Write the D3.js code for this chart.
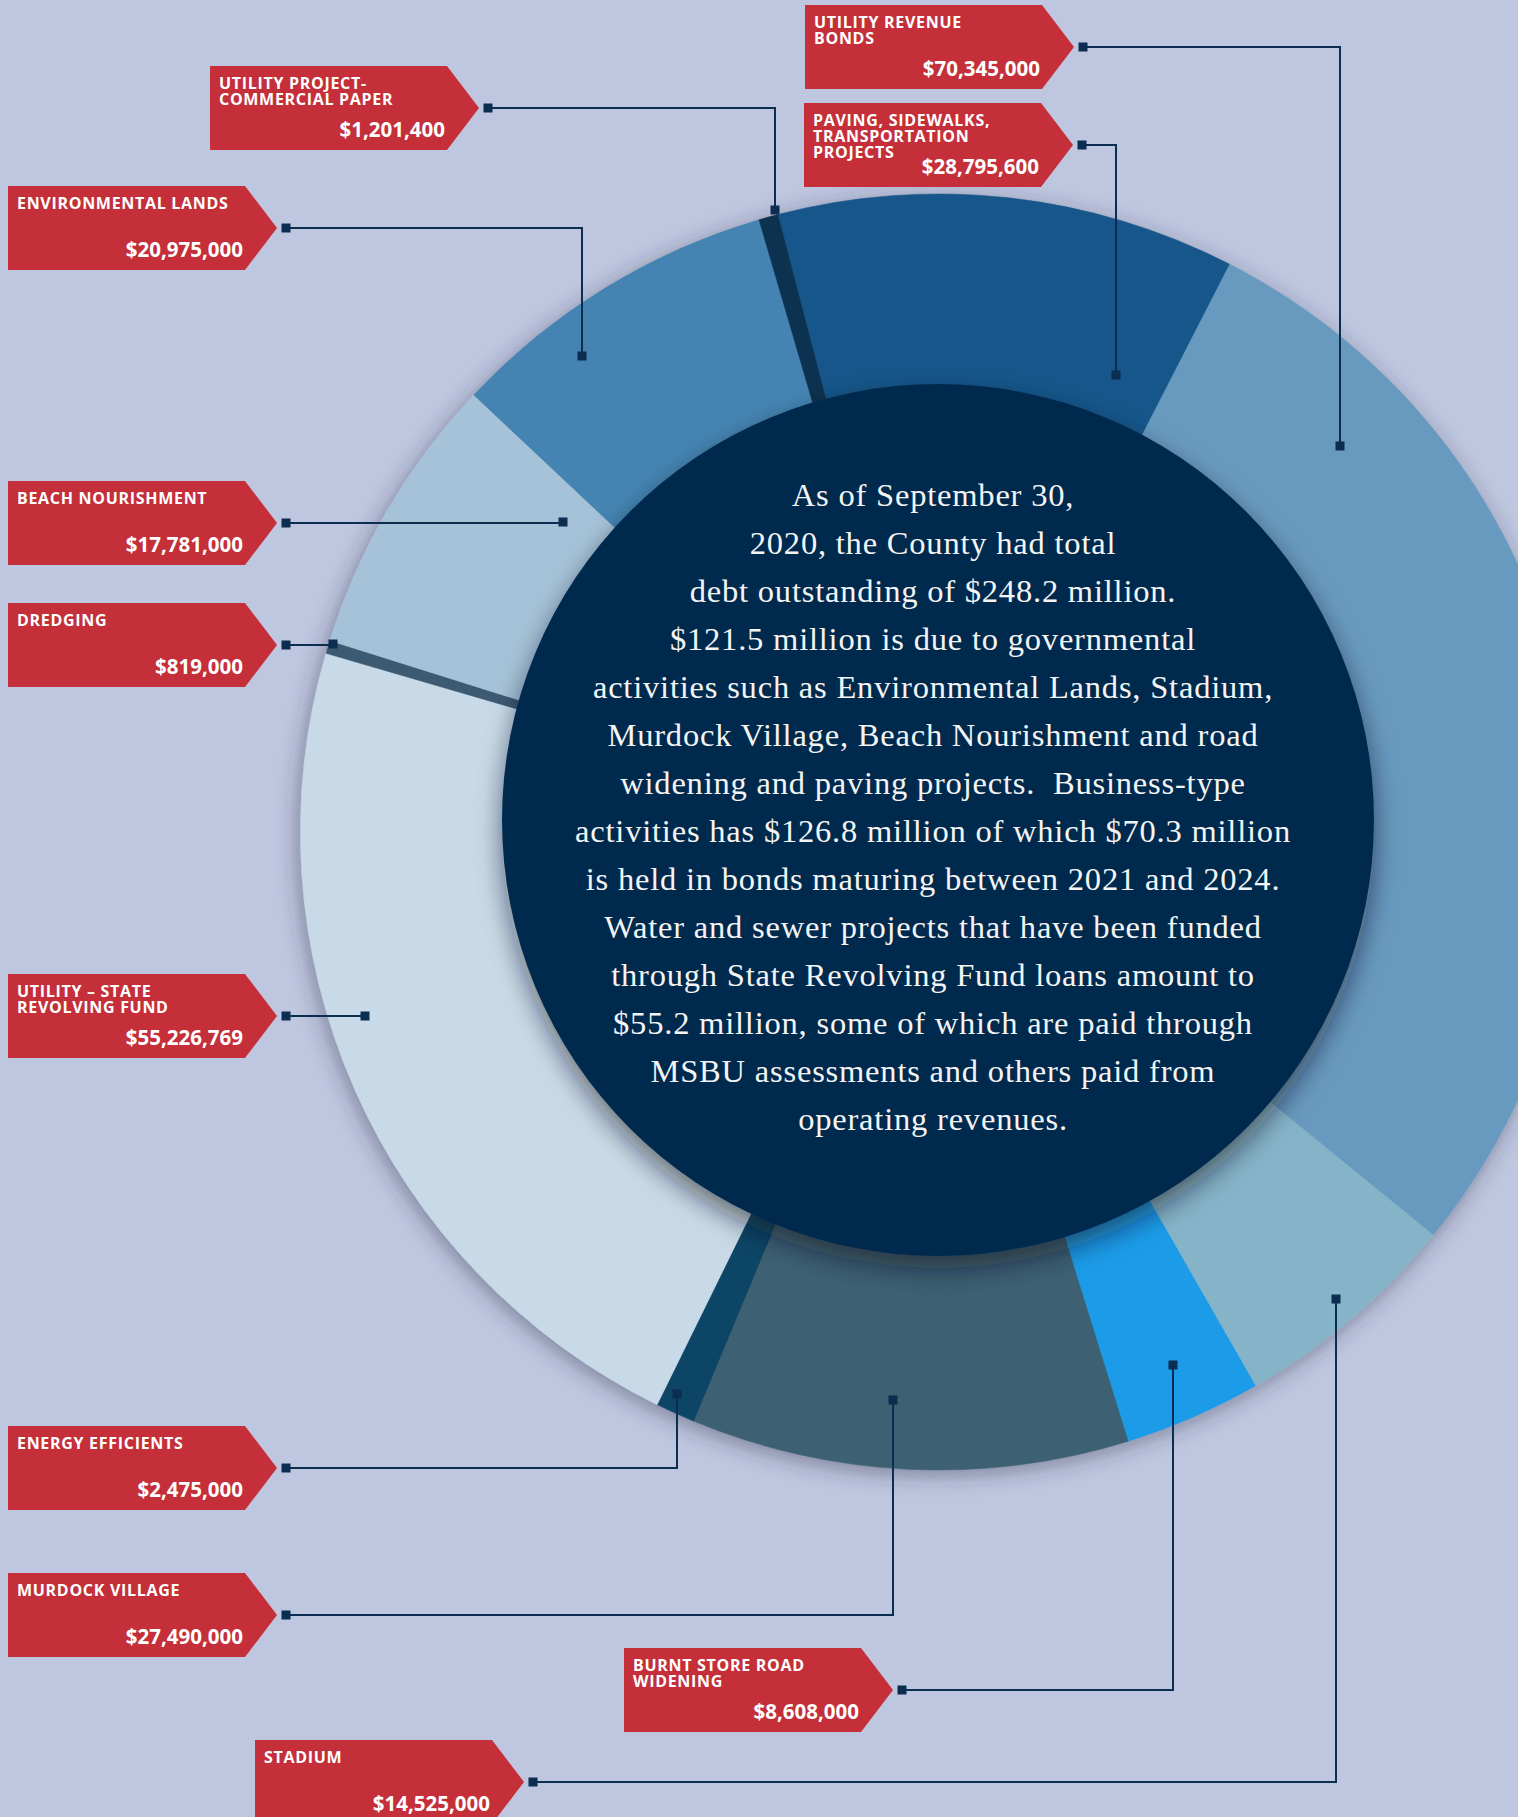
<!DOCTYPE html>
<html>
<head>
<meta charset="utf-8">
<script src="https://cdn.jsdelivr.net/npm/d3@7"></script>
<style>
  html, body { margin: 0; padding: 0; background: #bfc7e0; }
  svg { display: block; }
</style>
</head>
<body>
<div id="chart"></div>
<script>
const width = 1518;
const height = 1817;

// debt by program, clockwise from the top of the ring
const categories = [
  "Paving, Sidewalks, Transportation Projects",
  "Utility Revenue Bonds",
  "Stadium",
  "Burnt Store Road Widening",
  "Murdock Village",
  "Energy Efficients",
  "Utility - State Revolving Fund",
  "Dredging",
  "Beach Nourishment",
  "Environmental Lands",
  "Utility Project-Commercial Paper"
];
const amounts = [28795600, 70345000, 14525000, 8608000, 27490000, 2475000, 55226769, 819000, 17781000, 20975000, 1201400];
const labelLines = [
  ["PAVING, SIDEWALKS,", "TRANSPORTATION", "PROJECTS"],
  ["UTILITY REVENUE", "BONDS"],
  ["STADIUM"],
  ["BURNT STORE ROAD", "WIDENING"],
  ["MURDOCK VILLAGE"],
  ["ENERGY EFFICIENTS"],
  ["UTILITY \u2013 STATE", "REVOLVING FUND"],
  ["DREDGING"],
  ["BEACH NOURISHMENT"],
  ["ENVIRONMENTAL LANDS"],
  ["UTILITY PROJECT-", "COMMERCIAL PAPER"]
];
const sliceColors = ["#17578a", "#6899bf", "#85b3c8", "#1a9be8", "#3d6173", "#0e4466",
                     "#c8dae8", "#3e5a73", "#a5c2d8", "#4584b2", "#0d3050"];

const centerText = [
  "As of September 30,",
  "2020, the County had total",
  "debt outstanding of $248.2 million.",
  "$121.5 million is due to governmental",
  "activities such as Environmental Lands, Stadium,",
  "Murdock Village, Beach Nourishment and road",
  "widening and paving projects.  Business-type",
  "activities has $126.8 million of which $70.3 million",
  "is held in bonds maturing between 2021 and 2024.",
  "Water and sewer projects that have been funded",
  "through State Revolving Fund loans amount to",
  "$55.2 million, some of which are paid through",
  "MSBU assessments and others paid from",
  "operating revenues."
];

// callout placement: box left/top, elbow x of leader, leader end y
const labelLayout = [
  { bx: 804, by: 103, ex: 1116, ey: 375 },
  { bx: 805, by: 5,   ex: 1340, ey: 446 },
  { bx: 255, by: 1740, ex: 1336, ey: 1299 },
  { bx: 624, by: 1648, ex: 1173, ey: 1365 },
  { bx: 8,   by: 1573, ex: 893, ey: 1400 },
  { bx: 8,   by: 1426, ex: 677, ey: 1394 },
  { bx: 8,   by: 974, ex: 365, ey: 1016 },
  { bx: 8,   by: 603, ex: 333, ey: 644 },
  { bx: 8,   by: 481, ex: 563, ey: 522 },
  { bx: 8,   by: 186, ex: 582, ey: 356 },
  { bx: 210, by: 66,  ex: 775, ey: 210 }
];

const data = categories.map((c, i) => ({
  name: c, value: amounts[i], lines: labelLines[i], color: sliceColors[i], pos: labelLayout[i]
}));

const cx = 938.6, cy = 832, outerR = 638;
const discX = 938, discY = 820, discR = 436;
const startDeg = -14.6;

const svg = d3.select("#chart")
  .append("svg")
  .attr("width", width)
  .attr("height", height);

const defs = svg.append("defs");
defs.append("filter").attr("id", "ringShadow")
  .attr("x", "-20%").attr("y", "-20%").attr("width", "140%").attr("height", "140%")
  .append("feDropShadow")
  .attr("dx", -3).attr("dy", 5).attr("stdDeviation", 11)
  .attr("flood-color", "#2a2f45").attr("flood-opacity", 0.45);
defs.append("filter").attr("id", "discShadow")
  .attr("x", "-20%").attr("y", "-20%").attr("width", "140%").attr("height", "140%")
  .append("feDropShadow")
  .attr("dx", 0).attr("dy", 12).attr("stdDeviation", 13)
  .attr("flood-color", "#101820").attr("flood-opacity", 0.55);

svg.append("rect")
  .attr("width", width)
  .attr("height", height)
  .attr("fill", "#bfc7e0");

const pie = d3.pie()
  .sort(null)
  .value(d => d.value)
  .startAngle(startDeg * Math.PI / 180)
  .endAngle(startDeg * Math.PI / 180 + 2 * Math.PI);

const arc = d3.arc()
  .innerRadius(300)
  .outerRadius(outerR);

const ring = svg.append("g")
  .attr("transform", `translate(${cx},${cy})`)
  .attr("filter", "url(#ringShadow)");

ring.selectAll("path")
  .data(pie(data))
  .enter()
  .append("path")
  .attr("d", arc)
  .attr("fill", d => d.data.color)
  .attr("stroke", d => d.data.color)
  .attr("stroke-width", 0.6);

// center disc with summary text
svg.append("circle")
  .attr("cx", discX)
  .attr("cy", discY)
  .attr("r", discR)
  .attr("fill", "#042c4e")
  .attr("filter", "url(#discShadow)");

svg.append("g")
  .selectAll("text")
  .data(centerText)
  .enter()
  .append("text")
  .attr("x", 933)
  .attr("y", (d, i) => 506 + i * 48)
  .attr("text-anchor", "middle")
  .attr("fill", "#f4f4f4")
  .style("font-family", "'Liberation Serif', 'DejaVu Serif', serif")
  .style("font-size", "32.5px")
  .style("letter-spacing", "0.8px")
  .style("white-space", "pre")
  .text(d => d);

// leader lines
const leaders = svg.append("g");
data.forEach(d => {
  const p = d.pos;
  const sy = p.by + 42;
  const sx = p.bx + 237 + 32 + 9;
  leaders.append("path")
    .attr("d", `M${sx},${sy}H${p.ex}V${p.ey}`)
    .attr("fill", "none")
    .attr("stroke", "#0b2d4f")
    .attr("stroke-width", 2);
  [[sx, sy], [p.ex, p.ey]].forEach(([x, y]) => {
    leaders.append("rect")
      .attr("x", x - 4.5)
      .attr("y", y - 4.5)
      .attr("width", 9)
      .attr("height", 9)
      .attr("fill", "#0b2d4f");
  });
});

// red callout tags
const fmt = d3.format("$,");
const tags = svg.append("g")
  .selectAll("g")
  .data(data)
  .enter()
  .append("g")
  .attr("transform", d => `translate(${d.pos.bx},${d.pos.by})`);

tags.append("path")
  .attr("d", "M0,0H237L269,42L237,84H0Z")
  .attr("fill", "#c42f39");

tags.each(function (d) {
  const g = d3.select(this);
  d.lines.forEach((line, i) => {
    g.append("text")
      .attr("x", 9)
      .attr("y", 23 + i * 16.2)
      .attr("fill", "#ffffff")
      .style("font-family", "'Open Sans', sans-serif")
      .style("font-weight", 700)
      .style("font-size", "16px")
      .style("letter-spacing", "0.7px")
      .text(line);
  });
  g.append("text")
    .attr("x", 235)
    .attr("y", 71)
    .attr("text-anchor", "end")
    .attr("fill", "#ffffff")
    .style("font-family", "'Open Sans', sans-serif")
    .style("font-weight", 700)
    .style("font-size", "20.5px")
    .text(fmt(d.value));
});
</script>
</body>
</html>
